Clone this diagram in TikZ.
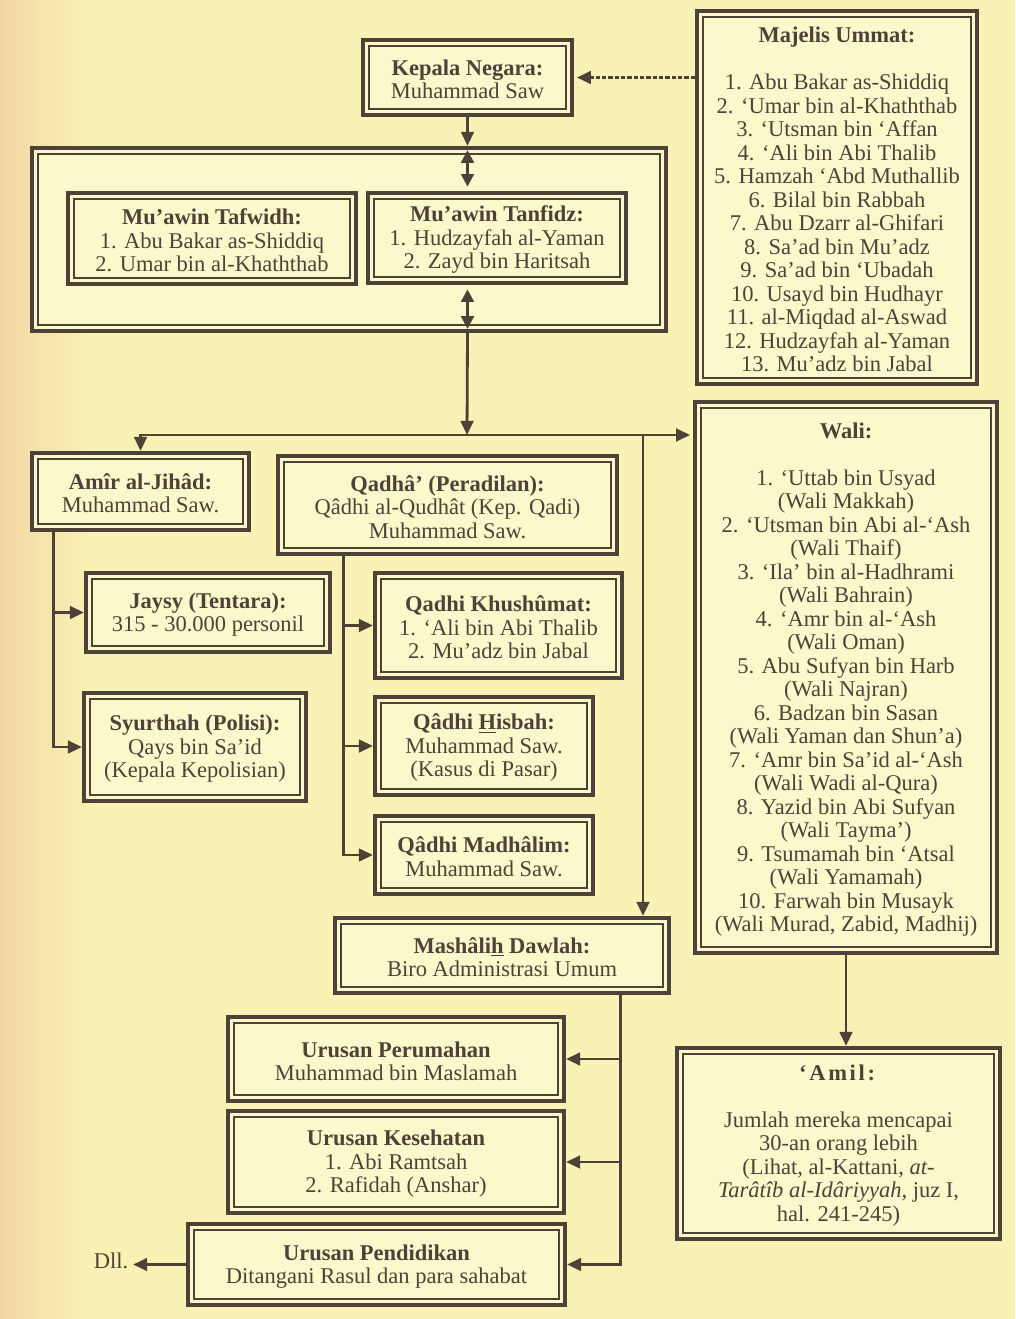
\documentclass[tikz,border=0pt]{standalone}
\usepackage{fontspec}
\setmainfont{Liberation Serif}
\usetikzlibrary{arrows.meta,calc}
\definecolor{paper}{RGB}{248,242,180}
\definecolor{boxfill}{RGB}{251,248,204}
\definecolor{ink}{RGB}{78,66,56}
\definecolor{peach}{RGB}{244,214,166}
% box heading, with a little room above it
\newcommand{\hd}[1]{\rule{0pt}{14pt}\textbf{#1}}
\begin{document}
\begin{tikzpicture}[x=0.025cm,y=-0.025cm,
	box/.style={draw=ink,line width=3pt,fill=boxfill,inner sep=0pt,align=center,text=ink,font=\fontsize{16}{16.7}\selectfont,
		path picture={\draw[ink,line width=1.3pt] ([shift={(6,6)}]path picture bounding box.north west) rectangle ([shift={(-6,-6)}]path picture bounding box.south east);}},
	dims/.style 2 args={minimum width=#1*0.025cm,minimum height=#2*0.025cm},
	conn/.style={draw=ink,line width=2pt,-{Triangle[length=10pt,width=9pt]}},
	twoway/.style={draw=ink,line width=2pt,{Triangle[length=9pt,width=9pt]}-{Triangle[length=9pt,width=9pt]},shorten <=3pt,shorten >=3pt},
	dots/.style={draw=ink,line width=2pt,dash pattern=on 3pt off 1.5pt,-{Triangle[length=10pt,width=9pt]},shorten >=2pt}]
	
	%paper
	\useasboundingbox (0,0) rectangle (1015,1319);
	\fill[paper] (0,0) rectangle (1015,1319);
	\shade[left color=peach,right color=paper] (0,0) rectangle (90,1319);
	
	%top
	\node[box,dims={209}{75}] (kepala) at (467.5,77.5) {\hd{Kepala Negara:}\\Muhammad Saw};
	\node[box,dims={280}{373}] (majelis) at (837,197.5) {\hd{Majelis Ummat:}\\[\baselineskip]
		1. Abu Bakar as-Shiddiq\\
		2. ‘Umar bin al-Khaththab\\
		3. ‘Utsman bin ‘Affan\\
		4. ‘Ali bin Abi Thalib\\
		5. Hamzah ‘Abd Muthallib\\
		6. Bilal bin Rabbah\\
		7. Abu Dzarr al-Ghifari\\
		8. Sa’ad bin Mu’adz\\
		9. Sa’ad bin ‘Ubadah\\
		10. Usayd bin Hudhayr\\
		11. al-Miqdad al-Aswad\\
		12. Hudzayfah al-Yaman\\
		13. Mu’adz bin Jabal};
	
	%mu'awin
	\node[box,dims={634}{183}] (muawin) at (349,239.5) {};
	\node[box,dims={288}{91}] (tafwidh) at (212,238.5) {\hd{Mu’awin Tafwidh:}\\1. Abu Bakar as-Shiddiq\\2. Umar bin al-Khaththab};
	\node[box,dims={258}{90}] (tanfidz) at (497,238) {\hd{Mu’awin Tanfidz:}\\1. Hudzayfah al-Yaman\\2. Zayd bin Haritsah};
	
	%left column
	\node[box,dims={217}{77}] (amir) at (140.5,491.5) {\hd{Amîr al-Jihâd:}\\Muhammad Saw.};
	\node[box,dims={244}{79}] (jaysy) at (208,612.5) {\hd{Jaysy (Tentara):}\\315 - 30.000 personil};
	\node[box,dims={222}{108}] (syurthah) at (195,747) {\hd{Syurthah (Polisi):}\\Qays bin Sa’id\\(Kepala Kepolisian)};
	
	%qadha
	\node[box,dims={339}{98}] (qadha) at (447.5,505) {\hd{Qadhâ’ (Peradilan):}\\Qâdhi al-Qudhât (Kep. Qadi)\\Muhammad Saw.};
	\node[box,dims={247}{105}] (khusumat) at (498.5,625.5) {\hd{Qadhi Khushûmat:}\\1. ‘Ali bin Abi Thalib\\2. Mu’adz bin Jabal};
	\node[box,dims={218}{98}] (hisbah) at (484,746) {\hd{Qâdhi \underline{H}isbah:}\\Muhammad Saw.\\(Kasus di Pasar)};
	\node[box,dims={218}{78}] (madhalim) at (484,855) {\hd{Qâdhi Madhâlim:}\\Muhammad Saw.};
	
	%mashalih
	\node[box,dims={334}{75}] (mashalih) at (502,955.5) {\hd{Mashâli\underline{h} Dawlah:}\\Biro Administrasi Umum};
	\node[box,dims={336}{84}] (perumahan) at (396,1059) {\hd{Urusan Perumahan}\\Muhammad bin Maslamah};
	\node[box,dims={336}{102}] (kesehatan) at (396,1162) {\hd{Urusan Kesehatan}\\1. Abi Ramtsah\\2. Rafidah (Anshar)};
	\node[box,dims={377}{81}] (pendidikan) at (376.5,1264.5) {\hd{Urusan Pendidikan}\\Ditangani Rasul dan para sahabat};
	\node[text=ink,font=\fontsize{16}{16.7}\selectfont] (dll) at (111,1261) {Dll.};
	
	%right column
	\node[box,dims={302}{551}] (wali) at (846,677.5) {\hd{Wali:}\\[\baselineskip]
		1. ‘Uttab bin Usyad\\(Wali Makkah)\\
		2. ‘Utsman bin Abi al-‘Ash\\(Wali Thaif)\\
		3. ‘Ila’ bin al-Hadhrami\\(Wali Bahrain)\\
		4. ‘Amr bin al-‘Ash\\(Wali Oman)\\
		5. Abu Sufyan bin Harb\\(Wali Najran)\\
		6. Badzan bin Sasan\\(Wali Yaman dan Shun’a)\\
		7. ‘Amr bin Sa’id al-‘Ash\\(Wali Wadi al-Qura)\\
		8. Yazid bin Abi Sufyan\\(Wali Tayma’)\\
		9. Tsumamah bin ‘Atsal\\(Wali Yamamah)\\
		10. Farwah bin Musayk\\(Wali Murad, Zabid, Madhij)};
	\node[box,dims={323}{191}] (amil) at (838.5,1143.5) {\hd{\addfontfeature{LetterSpace=12}‘Amil:}\\[\baselineskip]
		Jumlah mereka mencapai\\30-an orang lebih\\(Lihat, al-Kattani, \textit{at-}\\\textit{Tarâtîb al-Idâriyyah,} juz I,\\hal. 241-245)};
	
	%junctions
	\coordinate (hub) at (467,435);
	\coordinate (split) at (643,435);
	\coordinate (jihad) at ($(amir.south west)+(24,0)$);
	\coordinate (qadi) at ($(qadha.south west)+(68,0)$);
	\coordinate (dawlah) at ($(mashalih.south east)+(-51,0)$);
	
	%arrows
	\draw[dots] (majelis.west |- kepala.east) -- (kepala.east);
	\draw[conn] (kepala.south) -- (kepala.south |- muawin.north);
	\draw[twoway] (kepala.south |- muawin.north) -- (kepala.south |- tanfidz.north);
	\draw[twoway] (kepala.south |- tanfidz.south) -- (kepala.south |- muawin.south);
	\draw[conn] (kepala.south |- muawin.south) -- (hub);
	\draw[conn] (hub) -| (amir.north);
	\draw[conn,shorten >=2pt] (hub) -- (hub -| wali.west);
	\draw[conn] (split) -- (split |- mashalih.north);
	\draw[conn] (jihad) |- (jaysy.west);
	\draw[conn] (jihad) |- (syurthah.west);
	\draw[conn] (qadi) |- (khusumat.west);
	\draw[conn] (qadi) |- (hisbah.west);
	\draw[conn] (qadi) |- (madhalim.west);
	\draw[conn] (dawlah) |- (perumahan.east);
	\draw[conn] (dawlah) |- (kesehatan.east);
	\draw[conn] (dawlah) |- (pendidikan.east);
	\draw[conn] (pendidikan.west) -- (pendidikan.west -| dll.east);
	\draw[conn] (wali.south) -- (wali.south |- amil.north);
\end{tikzpicture}
\end{document}
